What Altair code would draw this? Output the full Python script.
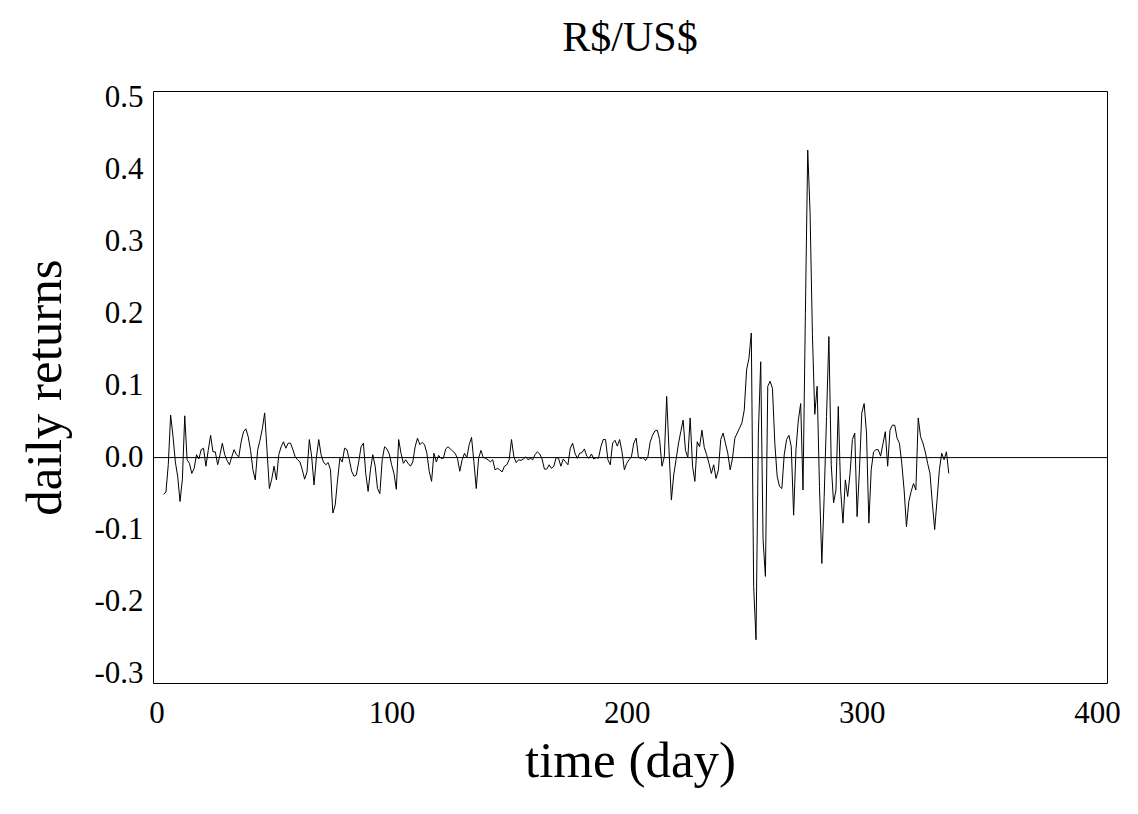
import altair as alt
import pandas as pd

# Daily returns, one value per day starting at day 3
start_day = 3
returns_a = [  # days 3-52
    -0.051, -0.048, -0.010, 0.059, 0.030, -0.006, -0.026, -0.061, -0.030, 0.058,
    -0.003, -0.008, -0.022, -0.015, 0.004, -0.002, 0.011, 0.013, -0.012, 0.010,
    0.031, 0.008, 0.008, -0.010, 0.004, 0.020, 0.004, -0.004, -0.010, 0.001,
    0.011, 0.004, 0.001, 0.022, 0.036, 0.040, 0.029, 0.010, -0.017, -0.031,
    0.010, 0.024, 0.040, 0.062, 0.010, -0.043, -0.030, -0.012, -0.031, 0.004,
]
returns_b = [  # days 53-102
    0.015, 0.022, 0.013, 0.020, 0.020, 0.011, 0.001, -0.003, -0.006, -0.017,
    -0.030, -0.020, 0.025, 0.001, -0.038, 0.000, 0.025, 0.004, -0.006, -0.010,
    -0.007, -0.017, -0.077, -0.066, -0.031, -0.001, -0.006, 0.013, 0.011, -0.003,
    -0.019, -0.026, -0.024, -0.006, 0.015, 0.020, -0.022, -0.047, -0.017, 0.004,
    -0.012, -0.043, -0.050, -0.003, 0.015, 0.012, 0.005, -0.010, -0.022, -0.044,
]
returns_c = [  # days 103-152
    0.025, 0.006, -0.008, -0.003, -0.008, -0.012, -0.006, 0.015, 0.027, 0.018,
    0.021, 0.018, 0.006, -0.019, -0.033, 0.006, -0.006, 0.003, -0.001, -0.001,
    0.012, 0.015, 0.012, 0.009, 0.006, -0.001, -0.019, -0.003, 0.006, 0.000,
    0.018, 0.028, -0.006, -0.043, -0.001, 0.010, 0.000, -0.001, -0.003, -0.006,
    -0.003, -0.017, -0.015, -0.017, -0.020, -0.012, -0.010, -0.003, 0.025, 0.001,
]
returns_d = [  # days 153-202
    -0.007, -0.003, -0.004, -0.002, 0.001, -0.003, -0.001, -0.003, 0.004, 0.008,
    0.005, -0.002, -0.016, -0.016, -0.010, -0.015, -0.012, 0.000, -0.001, -0.012,
    -0.002, -0.006, -0.010, 0.013, 0.020, 0.006, -0.001, 0.006, 0.007, 0.012,
    0.002, -0.001, 0.005, -0.002, 0.000, -0.001, 0.015, 0.025, 0.025, -0.003,
    -0.010, 0.020, 0.024, 0.016, 0.025, 0.008, -0.017, -0.008, -0.003, 0.001,
]
returns_e = [  # days 203-252
    0.020, 0.027, 0.000, -0.001, 0.000, -0.004, 0.001, 0.022, 0.031, 0.037,
    0.038, 0.025, -0.012, 0.001, 0.085, 0.010, -0.059, -0.024, -0.003, 0.019,
    0.036, 0.052, 0.010, 0.000, 0.055, -0.012, -0.033, 0.022, 0.015, 0.038,
    0.014, 0.004, -0.008, -0.022, -0.010, -0.029, -0.017, 0.025, 0.034, 0.020,
    0.006, -0.017, -0.001, 0.027, 0.034, 0.041, 0.048, 0.066, 0.122, 0.138,
]
returns_f = [  # days 253-302
    0.173, -0.179, -0.253, 0.034, 0.133, -0.114, -0.165, 0.099, 0.106, 0.096,
    0.020, -0.026, -0.040, -0.043, 0.004, 0.025, 0.031, 0.015, -0.080, 0.011,
    0.052, 0.075, -0.045, 0.200, 0.427, 0.340, 0.170, 0.060, 0.099, -0.040,
    -0.147, -0.054, 0.057, 0.168, -0.010, -0.063, -0.045, 0.071, -0.045, -0.091,
    -0.031, -0.054, -0.022, 0.025, 0.034, -0.082, -0.017, 0.062, 0.075, 0.034,
]
returns_g = [  # days 303-337
    -0.091, -0.017, 0.008, 0.011, 0.011, 0.002, 0.019, 0.036, -0.012, 0.038,
    0.045, 0.045, 0.027, 0.020, -0.008, -0.045, -0.096, -0.061, -0.047, -0.036,
    -0.045, 0.055, 0.029, 0.020, 0.008, -0.008, -0.022, -0.063, -0.100, -0.059,
    -0.017, 0.006, -0.003, 0.008, -0.022,
]

y_ticks = [-0.3, -0.2, -0.1, 0.0, 0.1, 0.2, 0.3, 0.4, 0.5]
x_ticks = [0, 100, 200, 300, 400]

values = returns_a + returns_b + returns_c + returns_d + returns_e + returns_f + returns_g
days = list(range(start_day, start_day + len(values)))
df = pd.DataFrame({"day": days, "ret": values})
zero_df = pd.DataFrame({"v": [0.0]})

FONT = "Liberation Serif"

x_enc = alt.X(
    "day:Q",
    scale=alt.Scale(domain=[-1.5, 404.3], nice=False, zero=False),
    axis=alt.Axis(
        values=x_ticks, title="time (day)", ticks=False, domain=False, grid=False,
        labelFont=FONT, labelFontSize=31, labelColor="black", labelPadding=15,
        labelFlush=False, labelOverlap=False, format="d",
        titleFont=FONT, titleFontSize=51, titleFontWeight="normal", titleColor="black",
        titleX=477, titleY=93, titleBaseline="alphabetic", titleAlign="center",
    ),
)
y_enc = alt.Y(
    "ret:Q",
    scale=alt.Scale(domain=[-0.313, 0.509], nice=False, zero=False),
    axis=alt.Axis(
        values=y_ticks, title="daily returns", ticks=False, domain=False, grid=False,
        labelFont=FONT, labelFontSize=31, labelColor="black", labelPadding=10,
        labelFlush=False, labelOverlap=False,
        labelExpr="datum.value < 0 ? '-' + format(-datum.value, '.1f') : format(datum.value, '.1f')",
        titleFont=FONT, titleFontSize=51, titleFontWeight="normal", titleColor="black",
        titleX=-108, titleY=296, titleAngle=-90, titleBaseline="middle", titleAlign="center",
    ),
)

line = alt.Chart(df).mark_line(color="black", strokeWidth=1).encode(x=x_enc, y=y_enc)
zero = alt.Chart(zero_df).mark_rule(color="black", strokeWidth=1).encode(y=alt.Y("v:Q"))

chart = (
    alt.layer(line, zero)
    .properties(
        width=954,
        height=592,
        autosize="none",
        background="white",
        padding={"left": 145, "top": 83, "right": 23, "bottom": 115},
        title=alt.TitleParams(
            "R$/US$", font=FONT, fontSize=42, fontWeight="normal", color="black",
            anchor="middle", offset=21,
        ),
    )
    .configure_view(stroke="black", strokeWidth=1)
)

chart.save("out.html", embed_options={"renderer": "svg", "actions": False})
